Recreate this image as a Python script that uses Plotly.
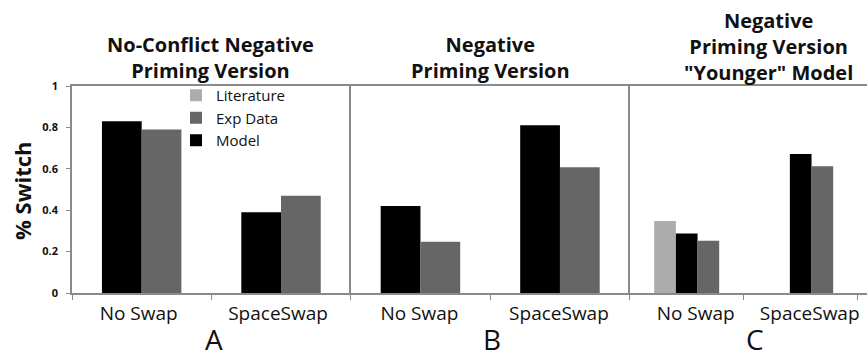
import plotly.graph_objects as go

# ---- data ----
categories = ["No Swap", "SpaceSwap"]
model_A = [0.83, 0.39]
exp_A = [0.79, 0.47]
model_B = [0.42, 0.81]
exp_B = [0.247, 0.607]
lit_C = [0.348, None]
model_C = [0.287, 0.672]
exp_C = [0.253, 0.612]
y_ticks = [0, 0.2, 0.4, 0.6, 0.8, 1]
title_A = "No-Conflict Negative<br>Priming Version"
title_B = "Negative<br>Priming Version"
title_C = "Negative<br>Priming Version<br>\"Younger\" Model"
panel_letters = ["A", "B", "C"]

COL_LIT = "#acacac"
COL_EXP = "#666666"
COL_MOD = "#000000"
AX = "#8a8a8a"
FONT = "Open Sans"

W, H = 867, 358
ML, MR, MT, MB = 72, 0, 86, 65
PW, PH = W - ML - MR, H - MT - MB


def px_x(p):
    return (p - ML) / PW


def px_y(p):
    return (H - MB - p) / PH


fig = go.Figure()

def add_bar(name, vals, color, xa, ya, show, rank):
    fig.add_trace(go.Bar(
        x=categories, y=vals, name=name, marker=dict(color=color, line=dict(width=0)),
        xaxis=xa, yaxis=ya, legendgroup=name, showlegend=show, legendrank=rank,
    ))

add_bar("Model", model_A, COL_MOD, "x", "y", True, 3)
add_bar("Exp Data", exp_A, COL_EXP, "x", "y", True, 2)
add_bar("Model", model_B, COL_MOD, "x2", "y2", False, 3)
add_bar("Exp Data", exp_B, COL_EXP, "x2", "y2", False, 2)
add_bar("Literature", lit_C, COL_LIT, "x3", "y3", True, 1)
add_bar("Model", model_C, COL_MOD, "x3", "y3", False, 3)
add_bar("Exp Data", exp_C, COL_EXP, "x3", "y3", False, 2)

dA = [0, px_x(350.7)]
dB = [px_x(350.7), px_x(629.7)]
dC = [px_x(629.7), 1]
c_width = 114.0
c_range = [-0.5, -0.5 + (W - 629.7) / c_width]

xcommon = dict(
    type="category", showline=True, linecolor=AX, linewidth=1.5, mirror=True,
    ticks="outside", tickson="boundaries", ticklen=5, tickcolor=AX,
    showgrid=False, zeroline=False, ticklabelstandoff=2,
    tickfont=dict(family=FONT, size=19, color="#111111"),
)
ycommon = dict(range=[0, 1], showgrid=False, zeroline=False, showline=True,
               linecolor=AX, linewidth=1.5, fixedrange=True)

fig.update_layout(
    width=W, height=H,
    margin=dict(l=ML, r=MR, t=MT, b=MB),
    paper_bgcolor="white", plot_bgcolor="white",
    barmode="group", bargap=0.43, bargroupgap=0,
    font=dict(family=FONT, color="#111111"),
    xaxis=dict(domain=dA, range=[-0.5, 1.5], anchor="y", ticklabelshift=-3, **xcommon),
    xaxis2=dict(domain=dB, range=[-0.5, 1.5], anchor="y2", ticklabelshift=-1, **xcommon),
    xaxis3=dict(domain=dC, range=c_range, anchor="y3", ticklabelshift=9, **xcommon),
    yaxis=dict(anchor="x", tickvals=y_ticks, ticks="outside", ticklen=4, tickcolor=AX,
               ticklabelstandoff=6,
               tickfont=dict(family=FONT, size=11, color="#111111", weight="bold"), **ycommon),
    yaxis2=dict(anchor="x2", showticklabels=False, ticks="", **ycommon),
    yaxis3=dict(anchor="x3", showticklabels=False, ticks="", **ycommon),
    legend=dict(x=px_x(176), y=px_y(79), xanchor="left", yanchor="top",
                bgcolor="rgba(0,0,0,0)", font=dict(family=FONT, size=15, color="#111111"),
                tracegroupgap=0, itemwidth=30),
    showlegend=True,
)

ann = []
def title(text, cx, cy, anchor="center", align="center"):
    ann.append(dict(text=text, x=px_x(cx), y=px_y(cy), xref="paper", yref="paper",
                    xanchor=anchor, yanchor="middle", align=align, showarrow=False,
                    font=dict(family=FONT, size=20, color="#111111", weight="bold")))

title(title_A, 210, 57)
title(title_B, 490, 57)
title(title_C, 768, 46)

for letter, cx in zip(panel_letters, [214, 492, 755]):
    ann.append(dict(text=letter, x=px_x(cx), y=px_y(339), xref="paper", yref="paper",
                    xanchor="center", yanchor="middle", showarrow=False,
                    font=dict(family=FONT, size=28, color="#111111")))

ann.append(dict(text="% Switch", x=px_x(22), y=px_y(191), xref="paper", yref="paper",
                xanchor="center", yanchor="middle", showarrow=False, textangle=-90,
                font=dict(family=FONT, size=22, color="#111111", weight="bold")))

fig.update_layout(annotations=ann)
fig.write_html("out.html", config={"displayModeBar": False},
               post_script="document.body.style.margin='0px';document.body.style.overflow='hidden';")
